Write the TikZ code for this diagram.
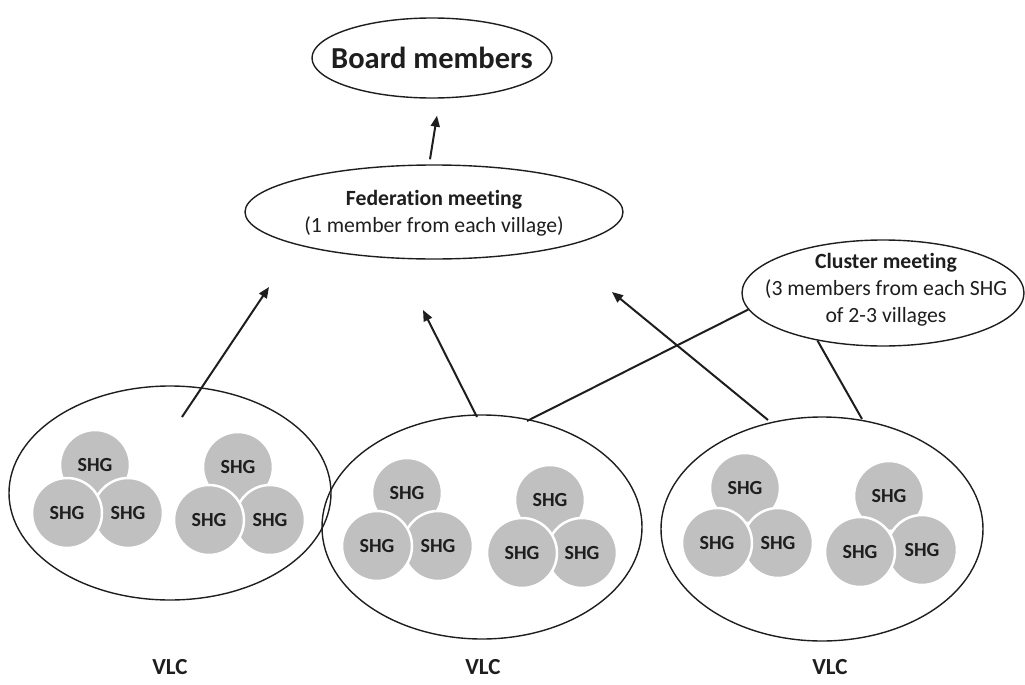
\documentclass[tikz,border=0pt]{standalone}
\usepackage{fontspec}
\setmainfont{Carlito}[Ligatures={TeX,NoCommon}]
\usetikzlibrary{shapes.geometric,arrows.meta}
\definecolor{shg}{RGB}{192,192,192}
\definecolor{ink}{RGB}{30,30,30}
\begin{document}
\begin{tikzpicture}[x=1pt,y=-1pt,
  oval/.style={draw=ink,line width=1.4pt,ellipse,inner sep=0pt},
  shgc/.style={circle,fill=shg,draw=white,line width=2.5pt,minimum size=70pt,inner sep=0pt,text=ink,font=\fontsize{20}{22}\selectfont\bfseries},
  arr/.style={draw=ink,line width=2pt,-{Triangle[length=11pt,width=9pt]}},
  conn/.style={draw=ink,line width=2pt},
  lbl/.style={text=ink,align=center},
  vlclbl/.style={text=ink,font=\fontsize{23}{26}\selectfont\bfseries}]
\useasboundingbox (0,0) rectangle (1025,685);

% top ellipses
\node[oval,minimum width=240pt,minimum height=80pt,
  label={[lbl,font=\fontsize{30.5}{36}\selectfont\bfseries]center:Board members}] (board) at (432,58) {};
\node[oval,minimum width=378pt,minimum height=94pt,
  label={[lbl,font=\fontsize{21.7}{27}\selectfont,yshift=-1pt]center:{\bfseries Federation meeting}\\(1 member from each village)}] (fed) at (434,212) {};
\node[oval,minimum width=282pt,minimum height=106pt,
  label={[lbl,font=\fontsize{21.7}{27}\selectfont,xshift=3pt,yshift=3pt]center:{\bfseries Cluster meeting}\\(3 members from each SHG\\of 2-3 villages}] (cluster) at (883,293) {};

% VLC ellipses
\node[oval,minimum width=322pt,minimum height=214pt] (vlc1) at (170,493) {};
\node[oval,minimum width=320pt,minimum height=224pt] (vlc2) at (482,527) {};
\node[oval,minimum width=322pt,minimum height=224pt] (vlc3) at (822,529) {};

% SHG circles (top, bottom-right, bottom-left)
\node[shgc] (a1t) at (95,465) {SHG};
\node[shgc] (a1r) at (128,513) {SHG};
\node[shgc] (a1l) at (67,513) {SHG};
\node[shgc] (a2t) at (238,467) {SHG};
\node[shgc] (a2r) at (270,520) {SHG};
\node[shgc] (a2l) at (209,520) {SHG};

\node[shgc] (b1t) at (407,493) {SHG};
\node[shgc] (b1r) at (438,546) {SHG};
\node[shgc] (b1l) at (377,546) {SHG};
\node[shgc] (b2t) at (550,500) {SHG};
\node[shgc] (b2r) at (582,553) {SHG};
\node[shgc] (b2l) at (522,553) {SHG};

\node[shgc] (c1t) at (745,488) {SHG};
\node[shgc] (c1r) at (778,543) {SHG};
\node[shgc] (c1l) at (717,543) {SHG};
\node[shgc] (c2t) at (889,496) {SHG};
\node[shgc] (c2r) at (922,550) {SHG};
\node[shgc] (c2l) at (860,552) {SHG};

% VLC labels
\node[vlclbl] (l1) at (170,667) {VLC};
\node[vlclbl] (l2) at (483,667) {VLC};
\node[vlclbl] (l3) at (830,667) {VLC};

% connectors
\draw[arr] ([shift={(-4pt,5pt)}]fed.north) -- ([shift={(5pt,-17pt)}]board.south);
\draw[arr] ([shift={(12pt,76pt)}]vlc1.center) -- ([shift={(-165pt,-75pt)}]fed.center);
\draw[arr] ([shift={(-5pt,110pt)}]vlc2.center) -- ([shift={(-11pt,-98pt)}]fed.center);
\draw[arr] ([shift={(-54pt,109pt)}]vlc3.center) -- ([shift={(178pt,-80pt)}]fed.center);
\draw[conn] (cluster.187) -- ([shift={(45pt,106pt)}]vlc2.center);
\draw[conn] (cluster.216) -- ([shift={(40pt,110pt)}]vlc3.center);
\end{tikzpicture}
\end{document}
